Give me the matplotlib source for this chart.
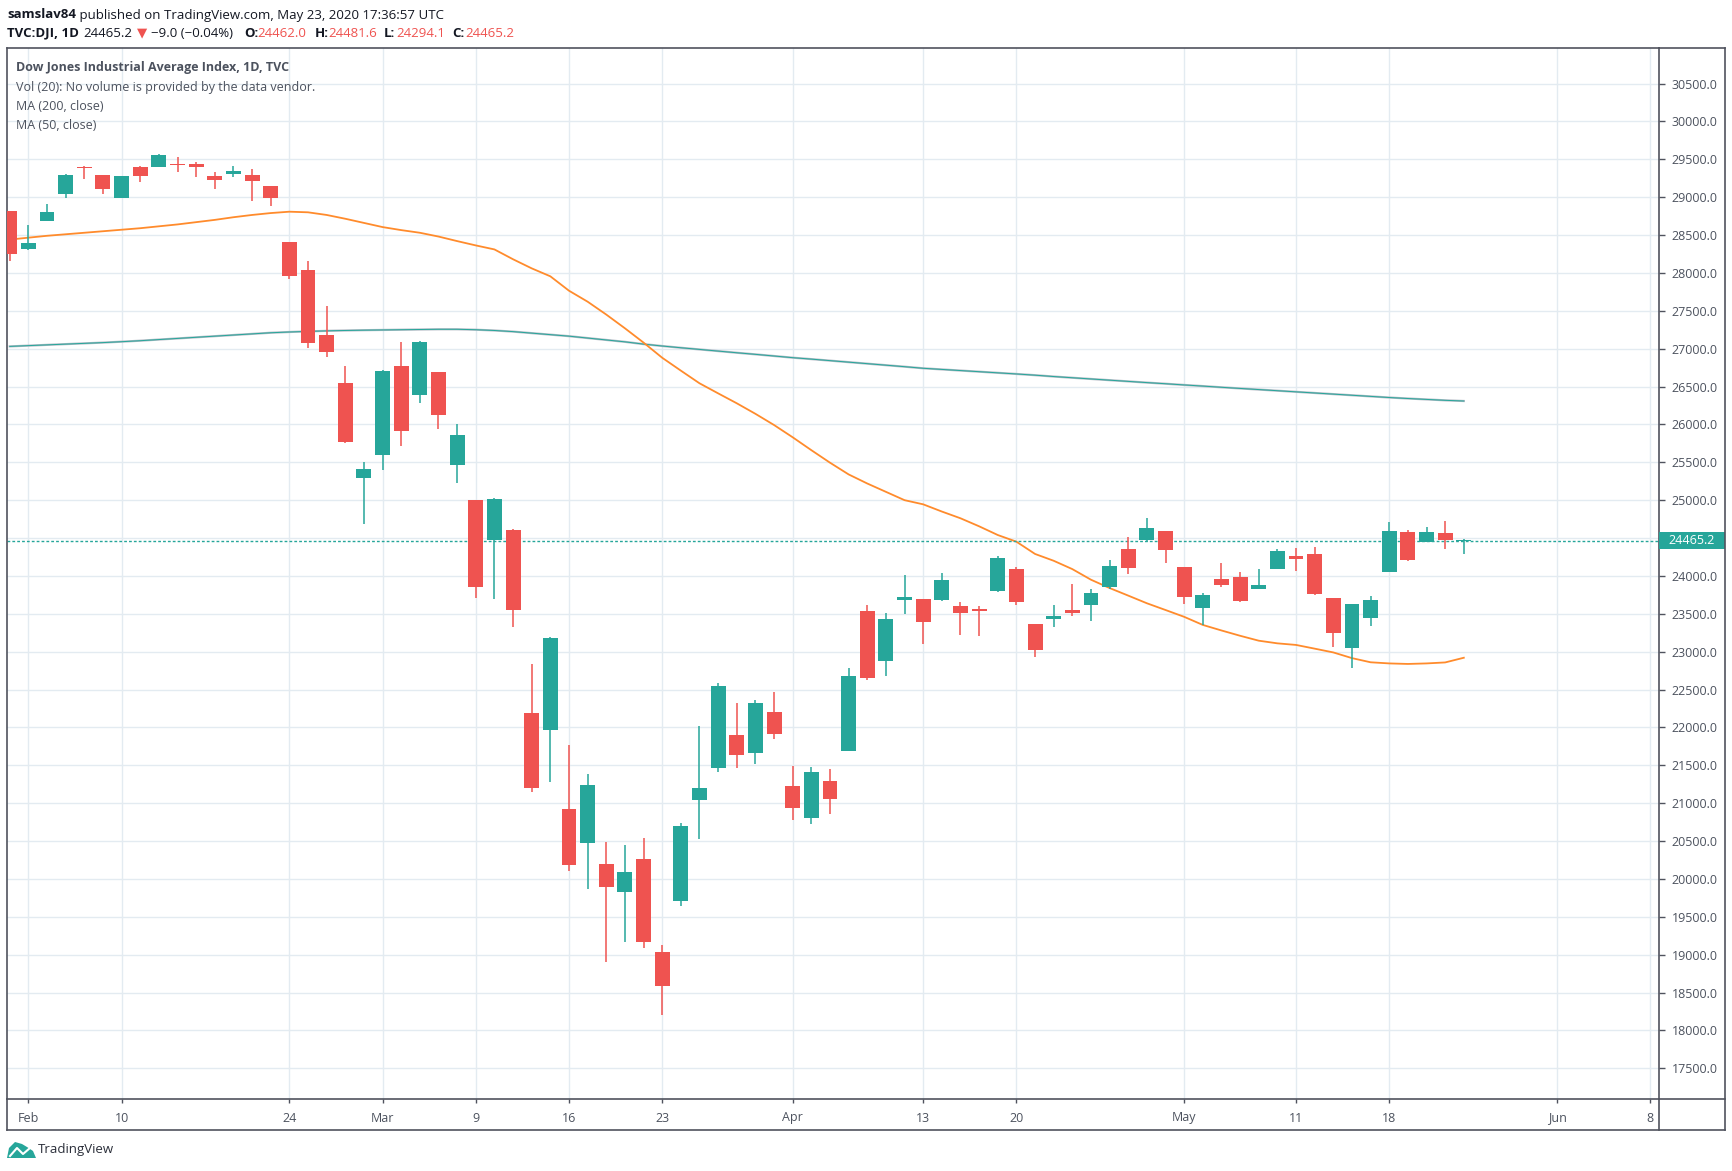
import numpy as np
import matplotlib
matplotlib.use("Agg")
import matplotlib.pyplot as plt
from matplotlib.lines import Line2D
from matplotlib.patches import Rectangle, Polygon

# DJI daily candles, 31 Jan - 22 May 2020
dates = ["Jan31", "Feb3", "Feb4", "Feb5", "Feb6", "Feb7", "Feb10", "Feb11", "Feb12", "Feb13",
         "Feb14", "Feb18", "Feb19", "Feb20", "Feb21", "Feb24", "Feb25", "Feb26", "Feb27", "Feb28",
         "Mar2", "Mar3", "Mar4", "Mar5", "Mar6", "Mar9", "Mar10", "Mar11", "Mar12", "Mar13",
         "Mar16", "Mar17", "Mar18", "Mar19", "Mar20", "Mar23", "Mar24", "Mar25", "Mar26", "Mar27",
         "Mar30", "Mar31", "Apr1", "Apr2", "Apr3", "Apr6", "Apr7", "Apr8", "Apr9", "Apr13",
         "Apr14", "Apr15", "Apr16", "Apr17", "Apr20", "Apr21", "Apr22", "Apr23", "Apr24", "Apr27",
         "Apr28", "Apr29", "Apr30", "May1", "May4", "May5", "May6", "May7", "May8", "May11",
         "May12", "May13", "May14", "May15", "May18", "May19", "May20", "May21", "May22"]
opens = [28813, 28310, 28690, 29046, 29390, 29293, 28993, 29398, 29402, 29438,
         29438, 29280, 29310, 29293, 29148, 28412, 28043, 27175, 26543, 25290,
         25600, 26767, 26390, 26688, 25468, 25004, 24468, 24609, 22188, 21965,
         20923, 20480, 20195, 19830, 20259, 19030, 19712, 21039, 21461, 21895,
         21658, 22210, 21224, 20803, 21289, 21684, 23540, 22877, 23683, 23696,
         23683, 23603, 23564, 23801, 24092, 23366, 23432, 23551, 23620, 23854,
         24355, 24475, 24594, 24118, 23577, 23957, 23984, 23828, 24092, 24263,
         24290, 23709, 23049, 23445, 24052, 24581, 24449, 24568, 24462]
highs = [28817, 28633, 28910, 29306, 29412, 29293, 29280, 29416, 29570, 29530,
         29464, 29332, 29412, 29372, 29148, 28412, 28162, 27557, 26771, 25504,
         26716, 27092, 27100, 26688, 26004, 25004, 25030, 24622, 22839, 23194,
         21770, 21383, 20486, 20446, 20536, 19126, 20737, 22013, 22592, 22329,
         22368, 22474, 21487, 21474, 21447, 22780, 23616, 23510, 24010, 23700,
         24039, 23656, 23603, 24263, 24114, 23366, 23617, 23894, 23830, 24210,
         24510, 24765, 24594, 24118, 23775, 24171, 24052, 24092, 24356, 24369,
         24382, 23709, 23630, 23735, 24713, 24607, 24647, 24726, 24482]
lows = [28161, 28300, 28690, 28993, 29244, 29046, 28993, 29204, 29402, 29336,
        29270, 29112, 29270, 28953, 28887, 27916, 27004, 26889, 25760, 24692,
        25403, 25718, 26284, 25938, 25228, 23714, 23700, 23328, 21151, 21283,
        20104, 19868, 18907, 19171, 19090, 18207, 19645, 20526, 21408, 21461,
        21513, 21842, 20776, 20724, 20855, 21684, 22626, 22679, 23500, 23100,
        23670, 23220, 23207, 23790, 23616, 22930, 23327, 23475, 23406, 23828,
        24026, 24452, 24171, 23630, 23353, 23854, 23654, 23828, 24092, 24065,
        23749, 23062, 22785, 23340, 24052, 24198, 24449, 24356, 24294]
closes = [28256, 28399, 28807, 29291, 29380, 29103, 29276, 29276, 29551, 29423,
          29398, 29232, 29348, 29219, 28992, 27961, 27081, 26957, 25766, 25409,
          26703, 25917, 27091, 26121, 25865, 23851, 25018, 23553, 21200, 23185,
          20189, 21237, 19899, 20087, 19174, 18592, 20704, 21200, 22552, 21637,
          22327, 21917, 20943, 21413, 21052, 22680, 22653, 23433, 23719, 23390,
          23949, 23504, 23538, 24242, 23650, 23018, 23475, 23515, 23775, 24134,
          24102, 24634, 24346, 23724, 23749, 23883, 23664, 23876, 24331, 24221,
          23765, 23248, 23625, 23685, 24597, 24207, 24575, 24474, 24465]
# red/green as drawn on the chart
is_up = [0, 1, 1, 1, 0, 0, 1, 0, 1, 0,
         0, 0, 1, 0, 0, 0, 0, 0, 0, 1,
         1, 0, 1, 0, 1, 0, 1, 0, 0, 1,
         0, 1, 0, 1, 0, 0, 1, 1, 1, 0,
         1, 0, 0, 1, 0, 1, 0, 1, 1, 0,
         1, 0, 0, 1, 0, 0, 1, 0, 1, 1,
         0, 1, 0, 0, 1, 0, 0, 1, 1, 0,
         0, 0, 1, 1, 1, 0, 1, 0, 1]

ma50 = [28440, 28465, 28490, 28510, 28530, 28550, 28570, 28590, 28615, 28640,
        28670, 28700, 28735, 28765, 28790, 28808, 28800, 28765, 28715, 28660,
        28605, 28565, 28530, 28480, 28420, 28363, 28310, 28180, 28060, 27955,
        27765, 27620, 27450, 27269, 27080, 26880, 26710, 26543, 26410, 26279,
        26140, 25992, 25830, 25660, 25495, 25340, 25220, 25110, 25000, 24945,
        24850, 24761, 24655, 24540, 24452, 24290, 24200, 24090, 23950, 23840,
        23740, 23639, 23550, 23460, 23353, 23280, 23210, 23145, 23110, 23089,
        23040, 22990, 22915, 22860, 22845, 22838, 22845, 22858, 22920]
ma200 = [27030, 27040, 27050, 27060, 27070, 27080, 27092, 27105, 27120, 27135,
         27150, 27165, 27180, 27195, 27210, 27220, 27228, 27235, 27240, 27244,
         27247, 27250, 27253, 27256, 27256, 27250, 27240, 27225, 27205, 27185,
         27165, 27140, 27115, 27090, 27060, 27035, 27012, 26990, 26968, 26946,
         26925, 26903, 26881, 26862, 26842, 26822, 26802, 26782, 26762, 26741,
         26726, 26711, 26696, 26681, 26666, 26650, 26632, 26616, 26600, 26584,
         26568, 26552, 26537, 26521, 26506, 26490, 26475, 26460, 26445, 26430,
         26415, 26400, 26385, 26370, 26355, 26342, 26330, 26318, 26309]

last_price = 24465.2

# x axis: trading-day index, labels at these bars
tick_idx = [1, 6, 15, 20, 25, 30, 35, 42, 49, 54, 63, 69, 74, 83, 88]
tick_lbl = ["Feb", "10", "24", "Mar", "9", "16", "23", "Apr", "13", "20",
            "May", "11", "18", "Jun", "8"]
price_ticks = list(range(17500, 31000, 500))

UP = "#26a69a"
DOWN = "#ef5350"
GRID = "#e3ebf1"
AXC = "#50535e"
TXT = "#4c525e"

W, H = 1733, 1171
fig = plt.figure(figsize=(W / 100, H / 100), dpi=100)
fig.patch.set_facecolor("white")

def fx(x):
    return x / W

def fy(y):
    return 1 - y / H

L, R, T, B = 7.3, 1659, 48.3, 1099
ax = fig.add_axes([fx(L), fy(B), fx(R) - fx(L), fy(T) - fy(B)])

x = np.arange(len(dates))
o = np.array(opens, float)
c = np.array(closes, float)
cols = [UP if u else DOWN for u in is_up]
body_lo = np.minimum(o, c)
body_h = np.maximum(np.abs(c - o), 14)

ax.vlines(x, lows, highs, colors=cols, linewidth=1.1, zorder=3)
ax.bar(x, body_h, bottom=body_lo, width=0.8, color=cols, linewidth=0, zorder=4)

ax.plot(x, ma200, color="#b4bbc5", linewidth=1.6, zorder=2)
ax.plot(x, ma200, color=UP, linewidth=0.7, zorder=2)
ax.plot(x, ma50, color="#ff8b2c", linewidth=1.3, zorder=2)

ax.axhline(last_price, color=UP, linewidth=1.0, linestyle=(0, (2, 1.5)), zorder=2)

ax.set_xlim(-0.13, 88.47)
ax.set_ylim(17095, 30965)

ax.set_xticks(tick_idx)
ax.set_xticklabels(tick_lbl)
ax.set_yticks(price_ticks)
ax.set_yticklabels(["" if p == 24500 else f"{p:.1f}" for p in price_ticks])
ax.yaxis.tick_right()
ax.tick_params(axis="x", length=3, width=1, color=AXC, labelcolor=TXT, labelsize=9, pad=6)
ax.tick_params(axis="y", length=4, width=1, color=AXC, labelcolor=TXT, labelsize=9, pad=5)
for lbl in ax.get_xticklabels() + ax.get_yticklabels():
    lbl.set_family(["Open Sans", "DejaVu Sans"])
ax.grid(True, color=GRID, linewidth=1)
ax.set_axisbelow(True)
for s in ax.spines.values():
    s.set_color(AXC)
    s.set_linewidth(1.2)

# last price tag on the price scale
tr = ax.get_yaxis_transform()
ax.add_patch(Rectangle((1.0, last_price - 112), 0.04, 224, transform=tr,
                       facecolor=UP, edgecolor="none", clip_on=False, zorder=6))
ax.text(1.006, last_price, f"{last_price:.1f}", transform=tr, color="white",
        fontsize=9, va="center", ha="left", zorder=7,
        family=["Open Sans", "DejaVu Sans"])

# outer frame around the price scale and time scale
RR, BB = 1725.5, 1130
for (x0, y0, x1, y1) in [(R, T, RR, T), (RR, T, RR, BB), (L, BB, RR, BB),
                         (L, B, L, BB), (R, B, RR, B), (R, B, R, BB)]:
    fig.add_artist(Line2D([fx(x0), fx(x1)], [fy(y0), fy(y1)], color=AXC, linewidth=1.2))

# legend lines inside the pane
fam = ["Open Sans", "DejaVu Sans"]
fig.text(fx(16), fy(68), "Dow Jones Industrial Average Index, 1D, TVC", fontsize=9,
         fontweight="bold", color=TXT, va="center", family=fam)
for i, s in enumerate(["Vol (20): No volume is provided by the data vendor.",
                       "MA (200, close)", "MA (50, close)"]):
    fig.text(fx(16), fy(87 + 19.1 * i), s, fontsize=9, color=TXT, va="center", family=fam)

# header lines
DARK = "#131722"
renderer = fig.canvas.get_renderer()
t = fig.text(fx(7), fy(15), "samslav84", fontsize=9.5, color=DARK, fontweight="bold",
             va="center", family=fam)
fig.text(fx(7) + t.get_window_extent(renderer).width / W, fy(15),
         " published on TradingView.com, May 23, 2020 17:36:57 UTC",
         fontsize=9.5, color=DARK, va="center", family=fam)

header2 = [("TVC:DJI, 1D", DARK, "bold", 7.3), ("24465.2", DARK, "normal", 83.5),
           ("▼", DOWN, "normal", 137), ("−9.0 (−0.04%)", DARK, "normal", 151),
           ("O:", DARK, "bold", 244), ("24462.0", DOWN, "normal", 257),
           ("H:", DARK, "bold", 315), ("24481.6", DOWN, "normal", 328),
           ("L:", DARK, "bold", 384), ("24294.1", DOWN, "normal", 396),
           ("C:", DARK, "bold", 452), ("24465.2", DOWN, "normal", 465)]
for s, col, wt, xp in header2:
    fig.text(fx(xp), fy(33.3), s, fontsize=9.5, color=col, fontweight=wt,
             va="center", ha="left", family=fam)

# TradingView mark
fig.add_artist(Polygon([(fx(7), fy(1158)), (fx(9), fy(1148)), (fx(15), fy(1142)),
                        (fx(22), fy(1144)), (fx(27), fy(1147)), (fx(33), fy(1151)),
                        (fx(36), fy(1158))], closed=True, facecolor=UP, edgecolor="none"))
fig.add_artist(Line2D([fx(10), fx(17), fx(23), fx(30)], [fy(1156), fy(1148), fy(1154), fy(1148)],
                      color="white", linewidth=1.5))
fig.text(fx(38), fy(1150), "TradingView", fontsize=9.5, color="#2a2e39", va="center", family=fam)

fig.savefig("out.png", dpi=100)
